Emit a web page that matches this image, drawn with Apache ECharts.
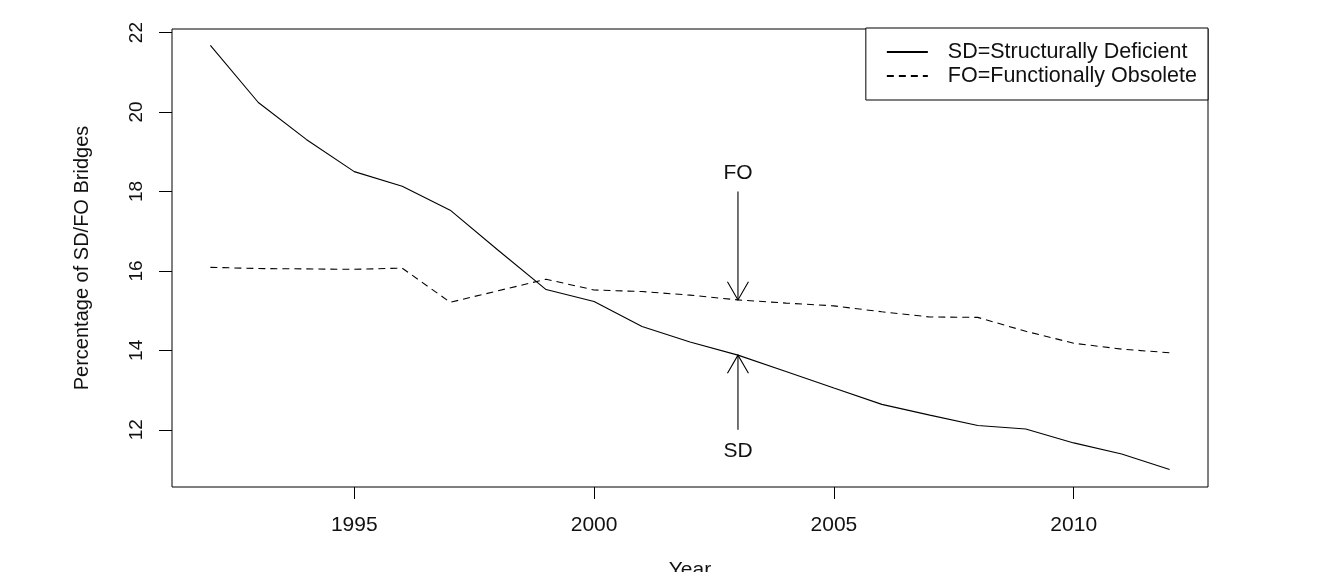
<!DOCTYPE html>
<html>
<head>
<meta charset="utf-8">
<script src="https://cdn.jsdelivr.net/npm/echarts@6/dist/echarts.min.js"></script>
<style>
html,body{margin:0;padding:0;background:#fff;overflow:hidden;}
#chart{width:1330px;height:572px;}
</style>
</head>
<body>
<div id="chart"></div>
<script>
// ---- data ----
var years = [1992,1993,1994,1995,1996,1997,1998,1999,2000,2001,2002,2003,2004,2005,2006,2007,2008,2009,2010,2011,2012];
var sdValues = [21.68,20.24,19.31,18.50,18.13,17.53,16.52,15.53,15.23,14.60,14.21,13.88,13.47,13.05,12.64,12.37,12.11,12.02,11.67,11.39,11.00];
var foValues = [16.09,16.06,16.05,16.04,16.07,15.21,15.50,15.79,15.52,15.48,15.39,15.27,15.19,15.12,14.97,14.84,14.83,14.48,14.18,14.03,13.94];
var seriesNames = ['SD=Structurally Deficient', 'FO=Functionally Obsolete'];
var xTicks = [1995, 2000, 2005, 2010];
var yTicks = [12, 14, 16, 18, 20, 22];
var xRange = [1991.2, 2012.8];
var yRange = [10.56, 22.09];
// annotation arrows: x, arrow start, arrow tip, label position, label text
var arrowX = [2003, 2003];
var arrowFrom = [18.0, 12.0];
var arrowTo = [15.27, 13.88];
var arrowLabelY = [18.46, 11.45];
var arrowLabels = ['FO', 'SD'];

var TXT = '#111';
var FONT = 'Liberation Sans, Arial, sans-serif';

function pairs(vals){ return years.map(function(y,i){ return [y, vals[i]]; }); }

var chart = echarts.init(document.getElementById('chart'), null, {renderer:'canvas'});
var option = {
  animation: false,
  backgroundColor: '#fff',
  textStyle: {fontFamily: FONT, color: TXT},
  grid: {left: 172, top: 29, width: 1036, height: 458, show: true, borderColor: '#000', borderWidth: 1, backgroundColor: 'transparent', containLabel: false, outerBoundsMode: 'none'},
  legend: {
    show: true,
    data: seriesNames,
    orient: 'vertical',
    align: 'left',
    right: 122,
    top: 28,
    itemWidth: 41,
    itemHeight: 14,
    itemGap: 2,
    padding: [13, 11, 13, 20],
    borderColor: '#000',
    borderWidth: 1,
    borderRadius: 0,
    backgroundColor: '#fff',
    selectedMode: false,
    itemStyle: {color: 'rgba(0,0,0,0)', borderWidth: 0, opacity: 0},
    textStyle: {fontSize: 21.5, color: TXT, fontFamily: FONT, padding: [0,0,0,15]}
  },
  xAxis: {
    type: 'value',
    min: xRange[0], max: xRange[1],
    name: 'Year', nameLocation: 'middle', nameGap: 73,
    nameTextStyle: {fontSize: 21, color: TXT, fontFamily: FONT},
    axisLine: {show: false},
    splitLine: {show: false},
    axisTick: {show: true, inside: false, length: 12, customValues: xTicks, lineStyle: {color: '#000', width: 1}},
    axisLabel: {show: true, customValues: xTicks, margin: 28, fontSize: 21, color: TXT, fontFamily: FONT, formatter: function(v){ return String(v); }}
  },
  yAxis: {
    type: 'value',
    min: yRange[0], max: yRange[1],
    name: 'Percentage of SD/FO Bridges', nameLocation: 'middle', nameGap: 80,
    nameTextStyle: {fontSize: 20, color: TXT, fontFamily: FONT},
    axisLine: {show: false},
    splitLine: {show: false},
    axisTick: {show: true, inside: false, length: 13, customValues: yTicks, lineStyle: {color: '#000', width: 1}},
    axisLabel: {show: true, customValues: yTicks, rotate: 90, margin: 26, fontSize: 19, color: TXT, fontFamily: FONT, formatter: function(v){ return String(v); }}
  },
  series: [
    {
      name: seriesNames[0], type: 'line', data: pairs(sdValues),
      symbol: 'none', showSymbol: false, silent: true,
      lineStyle: {color: '#000', width: 1.1, type: 'solid'},
      itemStyle: {color: '#000'}
    },
    {
      name: seriesNames[1], type: 'line', data: pairs(foValues),
      symbol: 'none', showSymbol: false, silent: true,
      lineStyle: {color: '#000', width: 1.1, type: [7, 5]},
      itemStyle: {color: '#000'}
    },
    {
      name: 'arrows', type: 'custom', silent: true,
      data: arrowX.map(function(x,i){ return [x, arrowFrom[i], arrowTo[i], arrowLabelY[i]]; }),
      encode: {x: 0, y: [1, 2]},
      renderItem: function(params, api){
        var x = api.value(0);
        var p0 = api.coord([x, api.value(1)]);
        var p1 = api.coord([x, api.value(2)]);
        var pl = api.coord([x, api.value(3)]);
        var ang = Math.atan2(p1[1]-p0[1], p1[0]-p0[0]);
        var L = 21, a = Math.PI/6;
        var h1 = [p1[0]-L*Math.cos(ang-a), p1[1]-L*Math.sin(ang-a)];
        var h2 = [p1[0]-L*Math.cos(ang+a), p1[1]-L*Math.sin(ang+a)];
        return {type: 'group', children: [
          {type: 'line', shape: {x1: p0[0], y1: p0[1], x2: p1[0], y2: p1[1]}, style: {stroke: '#000', lineWidth: 1.1}},
          {type: 'polyline', shape: {points: [h1, p1, h2]}, style: {stroke: '#000', fill: null, lineWidth: 1.1}},
          {type: 'text', x: pl[0], y: pl[1], style: {text: arrowLabels[params.dataIndex], fontSize: 21, fontFamily: FONT, align: 'center', verticalAlign: 'middle', fill: TXT}}
        ]};
      }
    }
  ]
};
chart.setOption(option);
</script>
</body>
</html>
